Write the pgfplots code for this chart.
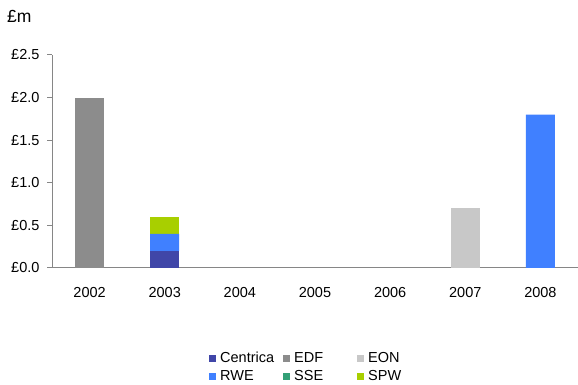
\documentclass[border=0pt]{standalone}
\usepackage{fontspec}
\setmainfont{Liberation Sans}
\usepackage{pgfplots}
\pgfplotsset{compat=1.18}
\definecolor{cCen}{HTML}{4046A8}
\definecolor{cEDF}{HTML}{8C8C8C}
\definecolor{cEON}{HTML}{C8C8C8}
\definecolor{cRWE}{HTML}{4080FF}
\definecolor{cSSE}{HTML}{33A077}
\definecolor{cSPW}{HTML}{A8CF00}
\definecolor{axgray}{HTML}{868686}
\newcommand{\fs}{\fontsize{14.5}{17}\selectfont}
\pgfplotsset{sq/.style={legend image code/.code={\fill[##1,draw=none] (0pt,-3.5pt) rectangle (7pt,3.5pt);}}}
\begin{document}
\begin{tikzpicture}
\useasboundingbox (0,0) rectangle (578pt,385pt);
\node[anchor=west,inner sep=0pt,font=\fontsize{17.5}{20}\selectfont] at (7pt,369pt) {£m};
\begin{axis}[
  at={(52pt,117pt)}, anchor=south west,
  scale only axis, width=526pt, height=213pt,
  ybar stacked, bar width=29pt,
  xmin=-0.5, xmax=6.5, ymin=0, ymax=2.5,
  xtick={0,1,2,3,4,5,6},
  xticklabels={2002,2003,2004,2005,2006,2007,2008},
  ytick={0,0.5,1,1.5,2,2.5},
  yticklabel={£\pgfmathprintnumber[fixed,fixed zerofill,precision=1]{\tick}},
  /pgf/number format/assume math mode=true,
  axis lines*=left,
  axis line style={axgray, line width=1pt},
  x tick style={draw=none},
  y tick style={axgray, line width=1pt},
  tick align=outside, major tick length=5pt,
  tick label style={font=\fs, text=black},
  xticklabel style={yshift=-11pt},
  yticklabel style={xshift=-4pt},
  legend columns=3,
  legend style={draw=none, fill=none, inner sep=0pt, font=\fs,
    at={(0.2985,-0.395)}, anchor=north west,
    nodes={inner sep=0pt},
    /tikz/row sep=6pt, /tikz/column sep=0pt},
]
\addplot[fill=cCen, draw=none, sq] coordinates {(0,0) (1,0.2) (2,0) (3,0) (4,0) (5,0) (6,0)};
\addlegendentry{\hspace*{4pt}\makebox[63pt][l]{Centrica}}
\addplot[fill=cEDF, draw=none, sq] coordinates {(0,2.0) (1,0) (2,0) (3,0) (4,0) (5,0) (6,0)};
\addlegendentry{\hspace*{4pt}\makebox[63pt][l]{EDF}}
\addplot[fill=cEON, draw=none, sq] coordinates {(0,0) (1,0) (2,0) (3,0) (4,0) (5,0.7) (6,0)};
\addlegendentry{\hspace*{4pt}\makebox[63pt][l]{EON}}
\addplot[fill=cRWE, draw=none, sq] coordinates {(0,0) (1,0.2) (2,0) (3,0) (4,0) (5,0) (6,1.8)};
\addlegendentry{\hspace*{4pt}\makebox[63pt][l]{RWE}}
\addplot[fill=cSSE, draw=none, sq] coordinates {(0,0) (1,0) (2,0) (3,0) (4,0) (5,0) (6,0)};
\addlegendentry{\hspace*{4pt}\makebox[63pt][l]{SSE}}
\addplot[fill=cSPW, draw=none, sq] coordinates {(0,0) (1,0.2) (2,0) (3,0) (4,0) (5,0) (6,0)};
\addlegendentry{\hspace*{4pt}\makebox[63pt][l]{SPW}}
\end{axis}
\end{tikzpicture}
\end{document}
